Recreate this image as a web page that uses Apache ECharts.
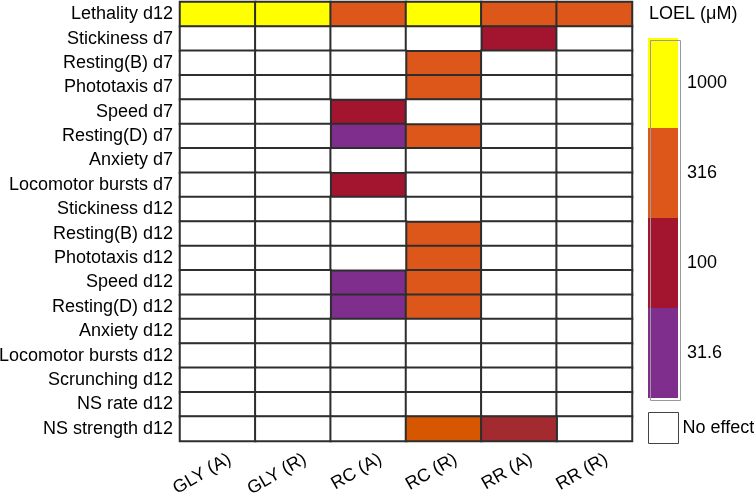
<!DOCTYPE html>
<html><head><meta charset="utf-8">
<script src="https://cdn.jsdelivr.net/npm/echarts@6/dist/echarts.min.js"></script>
<style>html,body{margin:0;padding:0;background:#fff}#c{width:754px;height:493px}</style>
</head><body><div id="c"></div>
<script>
const compounds = ['GLY (A)', 'GLY (R)', 'RC (A)', 'RC (R)', 'RR (A)', 'RR (R)'];
const endpoints = ['Lethality d12', 'Stickiness d7', 'Resting(B) d7', 'Phototaxis d7', 'Speed d7',
  'Resting(D) d7', 'Anxiety d7', 'Locomotor bursts d7', 'Stickiness d12', 'Resting(B) d12',
  'Phototaxis d12', 'Speed d12', 'Resting(D) d12', 'Anxiety d12', 'Locomotor bursts d12',
  'Scrunching d12', 'NS rate d12', 'NS strength d12'];
// LOEL (µM) per endpoint, columns in compound order; null = no effect
const loelValues = [
  [1000, 1000, 316, 1000, 316, 316],
  [null, null, null, null, 100, null],
  [null, null, null, 316, null, null],
  [null, null, null, 316, null, null],
  [null, null, 100, null, null, null],
  [null, null, 31.6, 316, null, null],
  [null, null, null, null, null, null],
  [null, null, 100, null, null, null],
  [null, null, null, null, null, null],
  [null, null, null, 316, null, null],
  [null, null, null, 316, null, null],
  [null, null, 31.6, 316, null, null],
  [null, null, 31.6, 316, null, null],
  [null, null, null, null, null, null],
  [null, null, null, null, null, null],
  [null, null, null, null, null, null],
  [null, null, null, null, null, null],
  [null, null, null, 316, 100, null]
];
const levelLabels = ['31.6', '100', '316', '1000'];
// endpoint whose cells use a slightly different shade in the original figure
const altShadeEndpoint = 'NS strength d12';
const altShades = { 316: '#D75600', 100: '#A32B2F' };

const effect = [], none = [], alt = [];
loelValues.forEach((row, yi) => {
  row.forEach((v, xi) => {
    if (v == null) none.push([xi, yi, 0]);
    else if (endpoints[yi] === altShadeEndpoint) alt.push({ value: [xi, yi, v], itemStyle: { color: altShades[v] } });
    else effect.push([xi, yi, v]);
  });
});

const border = { borderColor: '#2e2e2e', borderWidth: 2 };
const font = 'Liberation Sans, Arial, sans-serif';
const fs = 18;
const chart = echarts.init(document.getElementById('c'));
chart.setOption({
  animation: false,
  textStyle: { fontFamily: font },
  title: { text: 'LOEL (μM)', left: 649, top: 5, padding: 0,
    textStyle: { fontSize: fs, fontWeight: 'normal', color: '#000', fontFamily: font } },
  grid: [
    { left: 180, top: 2, right: 122, bottom: 52, outerBoundsMode: 'none', containLabel: false },
    { left: 192, top: 2, right: 110, bottom: 52, show: false, outerBoundsMode: 'none', containLabel: false }
  ],
  xAxis: [{
    type: 'category', data: compounds, gridIndex: 0,
    axisTick: { show: false }, axisLine: { show: false },
    axisLabel: { show: false }, splitLine: { show: false }
  }, {
    type: 'category', data: compounds, gridIndex: 1,
    axisTick: { show: false }, axisLine: { show: false },
    axisLabel: { rotate: 30, margin: 17, fontSize: fs, color: '#000', fontFamily: font },
    splitLine: { show: false }
  }],
  yAxis: [{
    type: 'category', data: endpoints, inverse: true, gridIndex: 0,
    axisTick: { show: false }, axisLine: { show: false },
    axisLabel: { margin: 7, fontSize: fs, color: '#000', fontFamily: font }
  }, {
    type: 'category', data: endpoints, inverse: true, gridIndex: 1, show: false
  }],
  visualMap: [{
    type: 'piecewise', seriesIndex: 0, orient: 'vertical',
    left: 648, top: 38, padding: 0, align: 'left',
    itemWidth: 30, itemHeight: 90, itemGap: 0, itemSymbol: 'rect', textGap: 9,
    hoverLink: false, selectedMode: false,
    textStyle: { fontSize: fs, color: '#000', fontFamily: font },
    pieces: [
      { min: 10, max: 50, label: levelLabels[0], color: '#7F2E8E' },
      { min: 50, max: 200, label: levelLabels[1], color: '#A3142F' },
      { min: 200, max: 600, label: levelLabels[2], color: '#DD561A' },
      { min: 600, max: 2000, label: levelLabels[3], color: '#FFFF00' }
    ]
  }],
  legend: {
    data: ['No effect'], left: 648, top: 412, padding: 0, orient: 'vertical',
    itemWidth: 30, itemHeight: 31, itemGap: 0, icon: 'rect', selectedMode: false,
    itemStyle: { color: '#fff', borderColor: '#444', borderWidth: 1 },
    textStyle: { fontSize: fs, color: '#000', fontFamily: font, padding: [0, 0, 0, -1] }
  },
  graphic: [{
    type: 'rect', left: 648, top: 38, shape: { width: 30, height: 360 },
    style: { fill: 'none', stroke: '#999', lineWidth: 1 }, z: 100, silent: true
  }],
  series: [
    { type: 'heatmap', name: 'LOEL', data: effect, itemStyle: border, emphasis: { disabled: true } },
    { type: 'heatmap', name: 'No effect', data: none, itemStyle: Object.assign({ color: '#fff' }, border), emphasis: { disabled: true } },
    { type: 'heatmap', name: 'alt', data: alt, itemStyle: border, emphasis: { disabled: true } }
  ]
});
</script></body></html>
